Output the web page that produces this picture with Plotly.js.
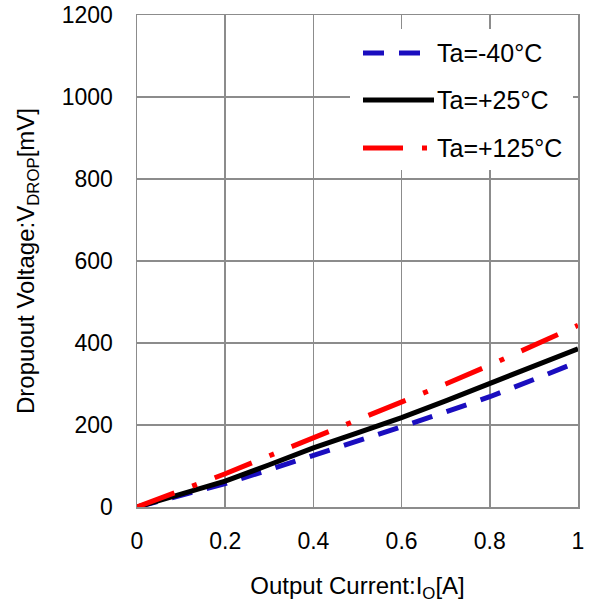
<!DOCTYPE html>
<html>
<head>
<meta charset="utf-8">
<script src="https://cdn.plot.ly/plotly-3.0.1.min.js"></script>
<style>html,body{margin:0;padding:0;background:#fff;}#chart{width:590px;height:606px;}</style>
</head>
<body>
<div id="chart"></div>
<script>
const current = [0, 0.1, 0.2, 0.3, 0.4, 0.5, 0.6, 0.7, 0.8, 0.9, 1.0];
const vdropM40 = [0, 27, 57, 91, 125, 160, 196, 232, 269, 311, 354];
const vdrop25 = [0, 30, 63, 103, 144, 181, 218, 259, 302, 344, 386];
const vdrop125 = [0, 40, 81, 125, 169, 211, 254, 300, 346, 394, 443];
const seriesNames = ['Ta=-40°C', 'Ta=+25°C', 'Ta=+125°C'];
const xTicks = [0, 0.2, 0.4, 0.6, 0.8, 1];
const xTickText = ['0', '0.2', '0.4', '0.6', '0.8', '1'];
const yTicks = [0, 200, 400, 600, 800, 1000, 1200];

const FONT = 'Arial, "Liberation Sans", sans-serif';
const FS = 23;
const FS_TITLE = 24;
const FS_LEG = 25;
const BLUE = '#1A0DBF';
const RED = '#FF0000';
const DASH_BLUE = '21px,15px';
const DASH_RED = '40px,19px,5px,19px';

const traces = [
  {x: current, y: vdropM40, name: seriesNames[0], mode: 'lines',
   line: {color: BLUE, width: 5, dash: DASH_BLUE}},
  {x: current, y: vdrop25, name: seriesNames[1], mode: 'lines',
   line: {color: '#000000', width: 5}},
  {x: current, y: vdrop125, name: seriesNames[2], mode: 'lines',
   line: {color: RED, width: 5, dash: DASH_RED}}
];

// custom legend (paper coords)
const W = 590, H = 606, ml = 137, mr = 12, mt = 15, mb = 99;
const pw = W - ml - mr, ph = H - mt - mb;
const px = v => (v - ml) / pw;
const py = v => (H - mb - v) / ph;

const rows = [53, 100, 148];
const styles = [
  {color: BLUE, dash: DASH_BLUE},
  {color: '#000000', dash: 'solid'},
  {color: RED, dash: DASH_RED}
];
const shapes = [
  {type: 'rect', xref: 'paper', yref: 'paper', x0: px(350), x1: px(573), y0: py(29), y1: py(170),
   fillcolor: '#ffffff', line: {width: 0}, layer: 'above'}
];
const annotations = [];
rows.forEach((ry, i) => {
  shapes.push({type: 'line', xref: 'paper', yref: 'paper', x0: px(363), x1: px(434), y0: py(ry), y1: py(ry),
    line: {color: styles[i].color, width: 5, dash: styles[i].dash}, layer: 'above'});
  annotations.push({xref: 'paper', yref: 'paper', x: px(435), y: py(ry), xanchor: 'left', yanchor: 'middle',
    text: seriesNames[i], showarrow: false, font: {family: FONT, size: FS_LEG, color: '#000'}});
});

const layout = {
  width: W, height: H,
  margin: {l: ml, r: mr, t: mt, b: mb},
  paper_bgcolor: '#fff', plot_bgcolor: '#fff',
  showlegend: false,
  font: {family: FONT, size: FS, color: '#000'},
  xaxis: {
    range: [0, 1], tickvals: xTicks, ticktext: xTickText,
    showgrid: true, gridcolor: '#8c8c8c', gridwidth: 1.5,
    showline: true, linecolor: '#8c8c8c', linewidth: 1.5, mirror: true,
    zeroline: false, ticks: '', ticklabelstandoff: 13,
    tickfont: {family: FONT, size: FS, color: '#000'},
    title: {text: 'Output Current:I<sub>O</sub>[A]', font: {family: FONT, size: FS_TITLE, color: '#000'}, standoff: 24}
  },
  yaxis: {
    range: [0, 1200], tickvals: yTicks,
    showgrid: true, gridcolor: '#8c8c8c', gridwidth: 1.5,
    showline: true, linecolor: '#8c8c8c', linewidth: 1.5, mirror: true,
    zeroline: false, ticks: '', ticklabelstandoff: 18,
    tickfont: {family: FONT, size: FS, color: '#000'},
    title: {text: 'Dropuout Voltage:V<sub>DROP</sub>[mV]', font: {family: FONT, size: FS_TITLE, color: '#000'}, standoff: 20}
  },
  shapes: shapes,
  annotations: annotations
};

Plotly.newPlot('chart', traces, layout, {displayModeBar: false, staticPlot: true});
</script>
</body>
</html>
